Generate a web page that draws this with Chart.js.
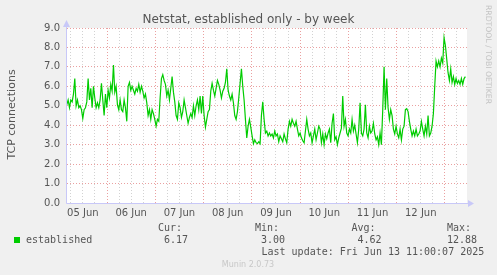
<!DOCTYPE html>
<html>
<head>
<meta charset="utf-8">
<script src="https://cdn.jsdelivr.net/npm/chart.js@4/dist/chart.umd.min.js"></script>
<style>
  html, body { margin: 0; padding: 0; background: #f0f0f0; }
  canvas { display: block; }
</style>
</head>
<body>
<canvas id="netstat" width="497" height="275"></canvas>
<script>
// hours counted from 05 Jun 00:00
const axisStartHour = 4.1;
const axisEndHour = 203;
const firstSampleHour = 4.0;
const lastSampleHour = 202.2;

const dayLabels = ['05 Jun', '06 Jun', '07 Jun', '08 Jun', '09 Jun', '10 Jun', '11 Jun', '12 Jun'];
const yTicks = [0, 1, 2, 3, 4, 5, 6, 7, 8, 9];

// established connections (roughly every 40 min)
const established = [
  5.05, 5.3, 4.9, 5.3, 5.2, 5.6, 6.4, 5.0, 5.3, 4.9, 5.0, 4.8, 4.35, 4.8,
  4.9, 5.2, 6.4, 5.3, 5.9, 4.9, 6.0, 5.4, 4.9, 5.15, 4.9, 5.3, 6.15, 5.3, 4.5, 5.6,
  4.9, 5.8, 5.4, 6.1, 5.75, 7.1, 5.7, 6.0, 5.05, 4.8, 5.3, 4.8, 4.7, 5.3, 4.9, 4.2,
  6.0, 6.2, 5.8, 6.0, 5.8, 5.6, 5.9, 5.75, 6.1, 5.7, 6.0, 5.75, 5.4, 5.6, 5.15, 4.5,
  4.8, 4.3, 4.8, 4.6, 4.3, 3.95, 4.3, 4.2, 5.4, 6.4, 6.6, 6.3, 6.1, 5.5, 5.8, 5.3,
  5.9, 6.5, 5.7, 5.2, 4.5, 4.3, 5.15, 4.9, 4.4, 4.7, 5.3, 4.9, 4.5, 4.1, 4.4, 4.6,
  4.4, 5.0, 4.5, 5.0, 5.3, 4.8, 5.5, 4.6, 5.5, 4.5, 3.9, 4.3, 4.7, 4.8, 5.75, 6.15,
  5.8, 5.5, 5.9, 6.3, 6.1, 5.8, 5.4, 5.75, 5.9, 6.2, 6.9, 5.8, 5.5, 5.3, 5.6, 5.15,
  4.5, 4.3, 4.7, 5.4, 6.15, 6.9, 6.0, 5.3, 4.3, 3.35, 3.95, 4.3, 3.9, 3.45, 3.05, 3.25,
  3.1, 3.05, 3.15, 3.05, 4.5, 5.2, 4.3, 3.6, 3.7, 3.45, 3.6, 3.45, 3.55, 3.35, 3.7, 3.45,
  3.55, 3.15,
  3.45, 3.3, 3.15, 3.55, 3.3, 3.1, 3.8, 4.2, 3.95, 4.3, 4.1, 3.95, 4.2, 3.8, 3.45, 3.6,
  3.35, 3.2, 3.1, 3.7,
  4.3, 3.8, 3.45, 3.6, 3.1, 3.45, 3.8, 3.25, 3.6, 3.95, 3.8, 3.1, 3.55, 3.0, 3.55, 3.3, 3.6,
  3.8, 3.1, 4.1, 4.6, 3.25, 3.4, 3.0, 3.35, 3.6, 3.85, 5.5, 3.95, 4.3, 3.6, 3.45, 3.8, 3.6,
  4.3, 3.7, 4.0, 3.55, 3.1, 3.8, 5.15, 3.6, 3.45, 3.8, 5.05, 3.6, 3.35, 3.95, 3.6, 3.7,
  4.1, 3.55, 3.25, 3.4, 3.0, 3.6, 3.0, 4.8, 7.0, 4.8, 6.4, 4.9, 4.3, 4.8, 4.5, 3.8, 3.55,
  3.95, 3.55, 3.35, 3.8, 3.25, 3.8, 3.95, 4.8, 4.85, 4.7, 4.2, 3.8, 3.45, 3.7, 3.45, 3.8,
  3.45, 3.55, 3.7, 4.2, 3.8, 3.45, 3.95, 3.55, 4.5, 3.45, 3.6, 3.95, 4.6, 6.0, 7.3, 7.0,
  7.3, 7.0, 7.45, 7.2, 8.5, 8.1, 7.4, 6.7, 6.3, 6.9, 6.2, 6.5, 6.1, 6.4, 6.15, 6.3,
  6.1, 6.4, 6.1, 6.4, 6.5
];

const legendStats = { cur: '6.17', min: '3.00', avg: '4.62', max: '12.88' };
const lastUpdate = 'Last update: Fri Jun 13 11:00:07 2025';

const stepHours = (lastSampleHour - firstSampleHour) / (established.length - 1);
const points = established.map((v, i) => ({ x: firstSampleHour + i * stepHours, y: v }));

const RED_GRID = '#eaa0a0';
const GREY_GRID = '#d2d2d2';
const AXIS = '#c8c8f8';
const TEXT = '#555555';

Chart.defaults.font.family = 'DejaVu Sans';
Chart.defaults.font.size = 10;
Chart.defaults.color = TEXT;

const munin = {
  id: 'munin',
  beforeDraw(chart) {
    const { ctx, chartArea: a } = chart;
    ctx.save();
    ctx.fillStyle = '#f0f0f0';
    ctx.fillRect(0, 0, chart.width, chart.height);
    ctx.fillStyle = '#ffffff';
    ctx.fillRect(a.left, a.top, a.right - a.left, a.bottom - a.top);
    ctx.restore();
  },
  afterDraw(chart) {
    const { ctx, chartArea: a } = chart;
    ctx.save();

    // axis lines and arrows
    ctx.strokeStyle = AXIS;
    ctx.fillStyle = AXIS;
    ctx.lineWidth = 1;
    ctx.beginPath();
    ctx.moveTo(a.left - 0.5, a.bottom + 0.5);
    ctx.lineTo(a.left - 0.5, a.top - 4);
    ctx.moveTo(a.left - 0.5, a.bottom + 0.5);
    ctx.lineTo(a.right + 4, a.bottom + 0.5);
    ctx.stroke();
    ctx.beginPath();
    ctx.moveTo(a.left - 0.5, a.top - 8);
    ctx.lineTo(a.left - 4, a.top - 1);
    ctx.lineTo(a.left + 3, a.top - 1);
    ctx.fill();
    ctx.beginPath();
    ctx.moveTo(a.right + 7, a.bottom + 0.5);
    ctx.lineTo(a.right + 1, a.bottom - 3);
    ctx.lineTo(a.right + 1, a.bottom + 4);
    ctx.fill();

    // title
    ctx.fillStyle = TEXT;
    ctx.textBaseline = 'middle';
    ctx.textAlign = 'center';
    ctx.font = '12px "DejaVu Sans"';
    ctx.fillText('Netstat, established only - by week', 248.5, 19.5);

    // vertical axis title
    ctx.save();
    ctx.translate(12, 114.5);
    ctx.rotate(-Math.PI / 2);
    ctx.font = '11px "DejaVu Sans"';
    ctx.fillText('TCP connections', 0, 0);
    ctx.restore();

    // rrdtool watermark
    ctx.save();
    ctx.translate(487.5, 5);
    ctx.rotate(Math.PI / 2);
    ctx.textAlign = 'left';
    ctx.fillStyle = '#c4c4c4';
    ctx.font = '7.7px "DejaVu Sans"';
    ctx.fillText('RRDTOOL / TOBI OETIKER', 0, 0);
    ctx.restore();

    // legend
    ctx.textAlign = 'left';
    ctx.font = '10px "DejaVu Sans Mono"';
    ctx.fillStyle = '#00cc00';
    ctx.fillRect(14, 237, 6, 6);
    ctx.fillStyle = TEXT;
    ctx.fillText('established', 26, 240);
    ctx.fillText('Cur:', 158, 228);
    ctx.fillText(legendStats.cur, 164, 240);
    ctx.fillText('Min:', 255, 228);
    ctx.fillText(legendStats.min, 261, 240);
    ctx.fillText('Avg:', 351.5, 228);
    ctx.fillText(legendStats.avg, 357.5, 240);
    ctx.fillText('Max:', 447, 228);
    ctx.fillText(legendStats.max, 447, 240);
    ctx.fillText(lastUpdate, 261.5, 252);

    ctx.textAlign = 'center';
    ctx.fillStyle = '#c8c8c8';
    ctx.font = '8px "DejaVu Sans"';
    ctx.fillText('Munin 2.0.73', 248, 264.5);
    ctx.restore();
  }
};

new Chart(document.getElementById('netstat'), {
  type: 'line',
  data: {
    datasets: [{
      label: 'established',
      data: points,
      borderColor: '#00cc00',
      borderWidth: 1.2,
      pointRadius: 0,
      tension: 0,
      fill: false
    }]
  },
  options: {
    responsive: false,
    animation: false,
    layout: { padding: { left: 0, top: 28, right: 30, bottom: 52 } },
    plugins: {
      legend: { display: false },
      tooltip: { enabled: false },
      title: { display: false }
    },
    scales: {
      x: {
        type: 'linear',
        min: axisStartHour,
        max: axisEndHour,
        afterFit(scale) { scale.height = 20; },
        afterBuildTicks(scale) {
          const ticks = [];
          for (let h = 6; h < axisEndHour; h += 6) ticks.push({ value: h });
          scale.ticks = ticks;
        },
        ticks: {
          autoSkip: false,
          maxRotation: 0,
          padding: 4,
          callback: (v) => (v % 24 === 12 ? dayLabels[(v - 12) / 24] : '')
        },
        grid: {
          drawTicks: false,
          color: (ctx) => (ctx.tick && ctx.tick.value % 24 === 0 ? RED_GRID : GREY_GRID)
        },
        border: { display: false, dash: [1, 2] }
      },
      y: {
        min: 0,
        max: 9,
        afterFit(scale) { scale.width = 67; },
        afterBuildTicks(scale) {
          const ticks = [];
          yTicks.forEach((t) => {
            ticks.push({ value: t });
            if (t < 9) ticks.push({ value: t + 0.5 });
          });
          scale.ticks = ticks;
        },
        ticks: {
          padding: 7,
          callback: (v) => (yTicks.includes(v) ? v.toFixed(1) : '')
        },
        grid: {
          drawTicks: false,
          color: (ctx) => (ctx.tick && ctx.tick.value % 1 === 0 ? RED_GRID : GREY_GRID)
        },
        border: { display: false, dash: [1, 2] }
      }
    }
  },
  plugins: [munin]
});
</script>
</body>
</html>
